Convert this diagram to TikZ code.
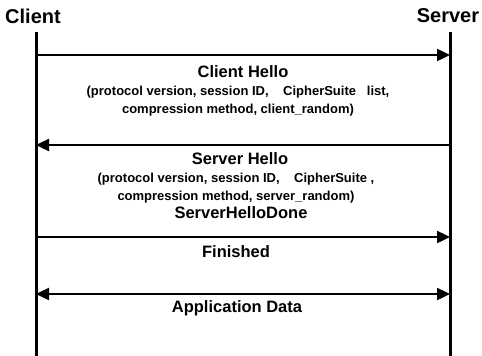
\documentclass[tikz,border=0pt]{standalone}
\usepackage{fontspec}
\setmainfont{Liberation Sans}
\usetikzlibrary{arrows.meta}
\begin{document}
\begin{tikzpicture}[x=1pt,y=-1pt,
    party/.style={font=\bfseries\fontsize{20}{20}\selectfont,inner sep=0pt},
    head/.style={font=\bfseries\fontsize{16.5}{18}\selectfont,inner sep=0pt},
    detail/.style={font=\bfseries\fontsize{13}{18}\selectfont,align=center,inner sep=0pt},
    life/.style={line width=3pt},
    msg/.style={line width=2.4pt,-{Triangle[length=13pt,width=12pt]}},
    both/.style={line width=2.4pt,{Triangle[length=13pt,width=12pt]}-{Triangle[length=13pt,width=12pt]}}]
    \useasboundingbox (0,0) rectangle (482,356);

    \node[party] (client) at (33,16) {Client};
    \node[party] (server) at (448,16) {Server};

    \coordinate (ctop) at (36,32);
    \coordinate (cbot) at (36,356);
    \coordinate (stop) at (450,32);
    \coordinate (sbot) at (450,356);
    \draw[life] (ctop) -- (cbot);
    \draw[life] (stop) -- (sbot);

    \coordinate (c1) at (36,55);  \coordinate (s1) at (450,55);
    \coordinate (c2) at (36,145); \coordinate (s2) at (450,145);
    \coordinate (c3) at (36,237); \coordinate (s3) at (450,237);
    \coordinate (c4) at (36,294); \coordinate (s4) at (450,294);

    \draw[msg] (c1) -- (s1);
    \draw[msg] (s2) -- (c2);
    \draw[msg] (c3) -- (s3);
    \draw[both] (c4) -- (s4);

    \node[head] (chello) at (243,72) {Client Hello};
    \node[detail] (cparams) at (238,101) {(protocol version, session ID,\ \ \ \ CipherSuite\ \ \ list,\\compression method, client\_random)};

    \node[head] (shello) at (240,159) {Server Hello};
    \node[detail] (sparams) at (236,188) {(protocol version, session ID,\ \ \ \ CipherSuite ,\\compression method, server\_random)};
    \node[head] (done) at (241,213) {ServerHelloDone};

    \node[head] (fin) at (236,252) {Finished};
    \node[head] (appdata) at (237,308) {Application Data};
\end{tikzpicture}
\end{document}
